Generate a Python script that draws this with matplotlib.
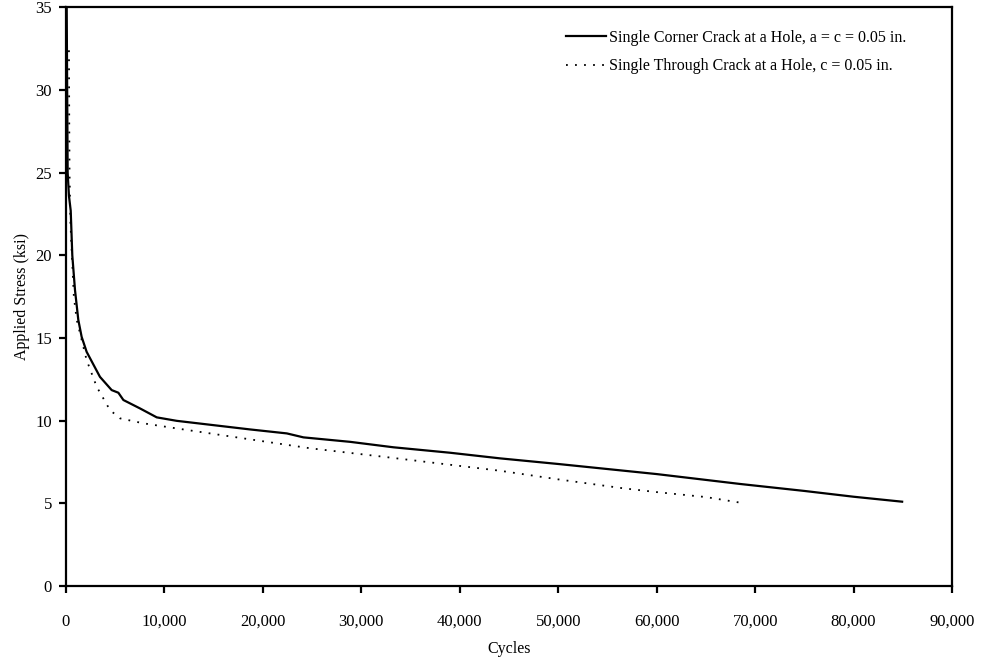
#!/usr/bin/env python3
"""Applied stress vs. cycles for corner and through cracks at a hole."""

import matplotlib
matplotlib.use("Agg")
import matplotlib.pyplot as plt
from matplotlib.ticker import FuncFormatter, MultipleLocator

# Single corner crack at a hole, a = c = 0.05 in.
corner_cycles = [60, 120, 170, 300, 480, 640, 915, 1250, 1590, 2100, 3450, 4640,
                 5320, 5830, 7520, 9220, 11250, 18700, 22430, 24120, 28860,
                 33260, 39020, 44100, 50000, 60000, 68500, 75000, 80000, 84930]
corner_stress = [36.0, 30.0, 25.0, 23.6, 22.7, 20.0, 17.9, 16.1, 15.07, 14.16,
                 12.65, 11.85, 11.69, 11.25, 10.74, 10.2, 9.99, 9.47, 9.23, 8.99,
                 8.72, 8.39, 8.06, 7.72, 7.38, 6.77, 6.17, 5.75, 5.4, 5.1]

# Single through crack at a hole, c = 0.05 in.
through_cycles = [300, 330, 360, 450, 600, 800, 1090, 1420, 2100, 3120, 4470,
                  5490, 7860, 11250, 18700, 24800, 32200, 44100, 50000, 56600,
                  60000, 65000, 68500]
through_stress = [32.4, 28.0, 25.0, 22.0, 20.0, 17.5, 16.1, 15.3, 13.66, 12.05,
                  10.64, 10.14, 9.84, 9.53, 8.87, 8.33, 7.82, 6.97, 6.45, 5.91,
                  5.68, 5.38, 5.04]

corner_label = "Single Corner Crack at a Hole, a = c = 0.05 in."
through_label = "Single Through Crack at a Hole, c = 0.05 in."

plt.rcParams["font.family"] = ["Liberation Serif", "DejaVu Serif"]

fig = plt.figure(figsize=(9.82, 6.66), dpi=100)
ax = fig.add_axes([0.0672, 0.1201, 0.9023, 0.8689])

ax.plot(corner_cycles, corner_stress, color="black", lw=1.6, label=corner_label)
ax.plot(through_cycles, through_stress, color="black", lw=1.3,
        linestyle=(0, (1, 4)), label=through_label)

ax.set_xlim(0, 90000)
ax.set_ylim(0, 35)
ax.xaxis.set_major_locator(MultipleLocator(10000))
ax.yaxis.set_major_locator(MultipleLocator(5))
ax.xaxis.set_major_formatter(FuncFormatter(lambda v, _p: f"{int(v):,}"))

for spine in ax.spines.values():
    spine.set_linewidth(1.6)
ax.tick_params(direction="out", length=5, width=1.6, labelsize=12, pad=5)
ax.tick_params(axis="x", pad=15)

ax.set_xlabel("Cycles", fontsize=11.5, labelpad=8)
ax.set_ylabel("Applied Stress (ksi)", fontsize=11.5, labelpad=4)

ax.legend(loc="upper right", frameon=False, fontsize=11.5, handlelength=2.5,
          handletextpad=0.2, labelspacing=0.8, borderaxespad=1.0,
          borderpad=0.4, bbox_to_anchor=(0.974, 1.0))

fig.savefig("out.png", dpi=100)
